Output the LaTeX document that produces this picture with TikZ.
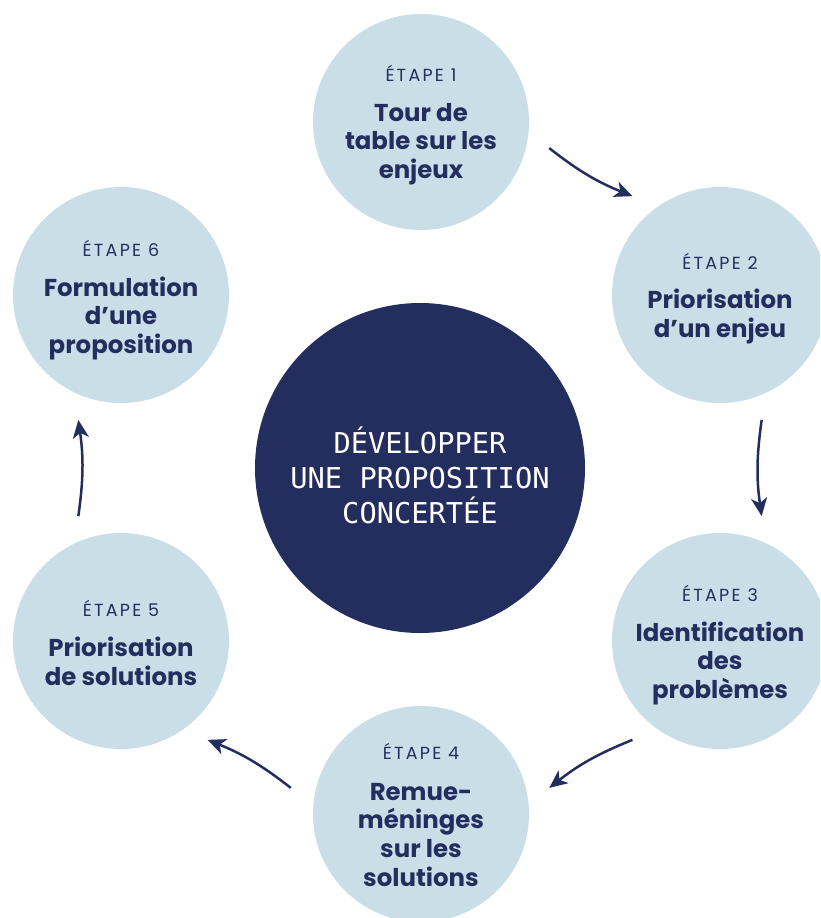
\documentclass[tikz,border=0pt]{standalone}
\usepackage{fontspec}
\setmainfont{Poppins}
\newfontfamily\etapefam{Poppins}[LetterSpace=13]
\newfontfamily\monofam{DejaVu Sans Mono}
\usetikzlibrary{arrows.meta,calc}
\definecolor{navy}{HTML}{242E5E}
\definecolor{pale}{HTML}{C9DEE7}
\begin{document}
\begin{tikzpicture}[x=1pt,y=-1pt,
  stepc/.style={circle, fill=pale, minimum size=216pt, inner sep=0pt},
  etape/.style={text=navy, font=\etapefam\fontsize{17.5}{20}\selectfont, inner sep=0pt, anchor=base},
  steptitle/.style={text=navy, font=\fontsize{24.4}{28.6}\selectfont\bfseries, align=center, inner sep=0pt, anchor=base},
  arr/.style={navy, line width=2.5pt, -{Stealth[length=18pt,width=16pt,inset=5pt]}}]
\useasboundingbox (0,0) rectangle (820,918);
\clip (0,0) rectangle (820,918);
% centre
\node[circle, fill=navy, minimum size=330pt, inner sep=0pt] (c) at (420,468) {};
\node[text=white, font=\monofam\fontsize{28.7}{35}\selectfont, align=center, inner sep=0pt] (ct) at (420,475) {DÉVELOPPER\\UNE PROPOSITION\\CONCERTÉE};
% steps
\node[stepc] (s1) at (421,122) {};
\node[stepc] (s2) at (720,295) {};
\node[stepc] (s3) at (720,641) {};
\node[stepc] (s4) at (421,814) {};
\node[stepc] (s5) at (121,641) {};
\node[stepc] (s6) at (121,295) {};
\node[etape] (e1) at ($(s1.center)+(0,-41)$) {ÉTAPE 1};
\node[steptitle] (t1) at ($(s1.center)+(0,56.5)$) {Tour de\\table sur les\\enjeux};
\node[etape] (e2) at ($(s2.center)+(0,-26)$) {ÉTAPE 2};
\node[steptitle] (t2) at ($(s2.center)+(0,42)$) {Priorisation\\d’un enjeu};
\node[etape] (e3) at ($(s3.center)+(0,-40)$) {ÉTAPE 3};
\node[steptitle] (t3) at ($(s3.center)+(0,57.5)$) {Identification\\des\\problèmes};
\node[etape] (e4) at ($(s4.center)+(0,-55)$) {ÉTAPE 4};
\node[steptitle] (t4) at ($(s4.center)+(0,72)$) {Remue-\\méninges\\sur les\\solutions};
\node[etape] (e5) at ($(s5.center)+(0,-25)$) {ÉTAPE 5};
\node[steptitle] (t5) at ($(s5.center)+(0,44)$) {Priorisation\\de solutions};
\node[etape] (e6) at ($(s6.center)+(0,-39)$) {ÉTAPE 6};
\node[steptitle] (t6) at ($(s6.center)+(0,58.5)$) {Formulation\\d’une\\proposition};
% arrow end points on the ring
\coordinate (a1) at ($(c.center)+(-68:345)$);
\coordinate (b1) at ($(c.center)+(-52:345)$);
\coordinate (a2) at ($(c.center)+(-8:345)$);
\coordinate (b2) at ($(c.center)+(8:345)$);
\coordinate (a3) at ($(c.center)+(52:345)$);
\coordinate (b3) at ($(c.center)+(68:345)$);
\coordinate (a4) at ($(c.center)+(112:345)$);
\coordinate (b4) at ($(c.center)+(128:345)$);
\coordinate (a5) at ($(c.center)+(172:345)$);
\coordinate (b5) at ($(c.center)+(188:345)$);
\draw[arr] (a1) to[bend right=8] (b1);
\draw[arr] (a2) to[bend right=8] (b2);
\draw[arr] (a3) to[bend right=8] (b3);
\draw[arr] (a4) to[bend right=8] (b4);
\draw[arr] (a5) to[bend right=8] (b5);
\end{tikzpicture}
\end{document}
